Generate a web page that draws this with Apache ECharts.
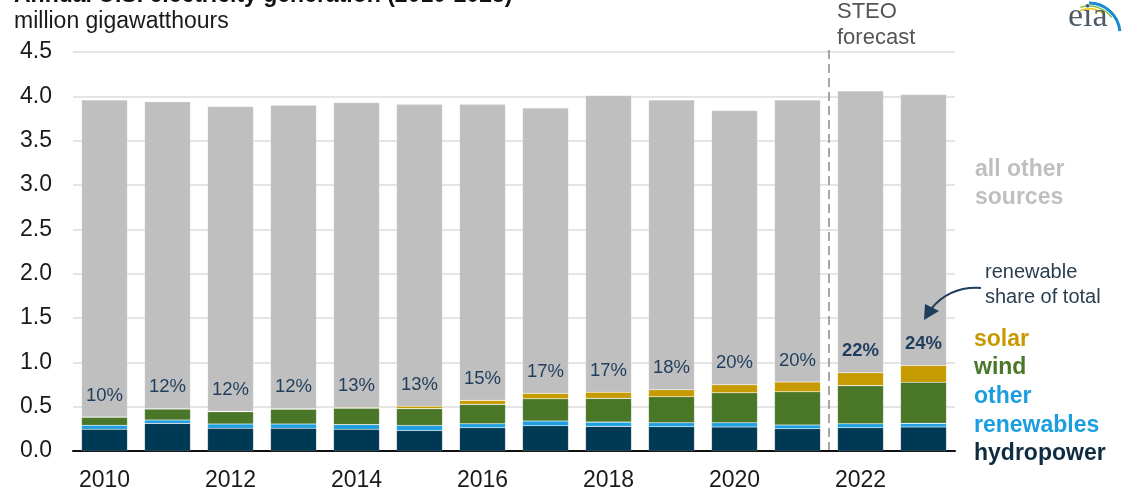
<!DOCTYPE html>
<html>
<head>
<meta charset="utf-8">
<script src="https://cdn.jsdelivr.net/npm/echarts@6/dist/echarts.min.js"></script>
<style>
html,body{margin:0;padding:0;background:#fff;}
#chart{width:1140px;height:500px;}
</style>
</head>
<body>
<div id="chart"></div>
<script>
const years = ['2010','2011','2012','2013','2014','2015','2016','2017','2018','2019','2020','2021','2022','2023'];
const hydro    = [0.245,0.312,0.256,0.256,0.245,0.232,0.262,0.285,0.278,0.274,0.270,0.251,0.262,0.270];
const otherRen = [0.045,0.037,0.048,0.048,0.053,0.056,0.045,0.053,0.048,0.045,0.049,0.042,0.045,0.041];
const wind     = [0.090,0.124,0.139,0.167,0.184,0.190,0.219,0.251,0.268,0.293,0.338,0.375,0.430,0.465];
const solar    = [0.002,0.003,0.004,0.006,0.010,0.027,0.045,0.060,0.068,0.079,0.090,0.111,0.146,0.188];
const allOther = [3.578,3.464,3.438,3.423,3.438,3.405,3.339,3.221,3.348,3.269,3.093,3.181,3.177,3.056];
const shareLabels = ['10%','12%','12%','12%','13%','13%','15%','17%','17%','18%','20%','20%','22%','24%'];
const forecastStart = 12; // index of first forecast year
const yTicks = {min:0, max:4.5, interval:0.5};

const FONT = '"Liberation Sans", Arial, sans-serif';
const C = {hydro:'#003953', other:'#1f9fdf', wind:'#4a7628', solar:'#c69b00', gray:'#bfbfbf', text:'#1e2a36', label:'#1f3d5c'};

const chart = echarts.init(document.getElementById('chart'), null, {renderer:'canvas'});

const seg = (name, data, color) => ({
  name, type:'bar', stack:'total', data, barCategoryGap:'27%',
  itemStyle:{color, borderColor:'rgba(255,255,255,0.25)', borderWidth:0.6},
  emphasis:{disabled:true}
});

const solarData = solar.map((v,i) => i >= forecastStart ? {value:v, label:{fontWeight:'bold'}} : v);

const option = {
  animation:false,
  grid:{left:73, right:185, top:52, bottom:49, containLabel:false},
  xAxis:{
    type:'category', data:years,
    axisLine:{lineStyle:{color:'#111', width:2}},
    axisTick:{show:false},
    axisLabel:{interval:1, color:'#1a1a1a', fontSize:23, fontFamily:FONT, margin:18}
  },
  yAxis:{
    type:'value', min:yTicks.min, max:yTicks.max, interval:yTicks.interval,
    axisLine:{show:false}, axisTick:{show:false},
    axisLabel:{color:'#1a1a1a', fontSize:23, fontFamily:FONT, margin:21, formatter:v=>v.toFixed(1)},
    splitLine:{lineStyle:{color:'#dcdcdc', width:1.5}}
  },
  series:[
    seg('hydropower', hydro, C.hydro),
    seg('other renewables', otherRen, C.other),
    seg('wind', wind, C.wind),
    Object.assign(seg('solar', solarData, C.solar), {
      label:{show:true, position:'top', distance:12, color:C.label, fontSize:18.5, fontFamily:FONT,
        formatter:p=>shareLabels[p.dataIndex]}
    }),
    seg('all other sources', allOther, C.gray)
  ]
};
chart.setOption(option);

// dashed forecast divider between last history year and first forecast year
const xa = chart.convertToPixel({xAxisIndex:0}, years[forecastStart-1]);
const xb = chart.convertToPixel({xAxisIndex:0}, years[forecastStart]);
const xd = (xa + xb) / 2;
const yTop = chart.convertToPixel({yAxisIndex:0}, yTicks.max);
const yBot = chart.convertToPixel({yAxisIndex:0}, 0);

const txt = (x, y, text, size, color, weight) => ({
  type:'text', x, y, silent:true, z:100,
  style:{text, fill:color, font:`${weight||'normal'} ${size}px ${FONT}`, verticalAlign:'middle', align:'left'}
});

chart.setOption({
  graphic:[
    {type:'line', silent:true, z:100, shape:{x1:xd, y1:yTop-2, x2:xd, y2:yBot-1},
      style:{stroke:'#8a8a8a', lineWidth:1.5, lineDash:[9,5]}},
    txt(14, -4, 'Annual U.S. electricity generation (2010-2023)', 23, '#111', 'bold'),
    txt(14, 22, 'million gigawatthours', 23, '#1a1a1a'),
    txt(837, 12, 'STEO', 22, '#555'),
    txt(837, 38, 'forecast', 22, '#555'),
    txt(975, 170, 'all other', 23, C.gray, 'bold'),
    txt(975, 198, 'sources', 23, C.gray, 'bold'),
    txt(985, 272, 'renewable', 20, '#2b3e50'),
    txt(985, 297, 'share of total', 20, '#2b3e50'),
    txt(974, 340, 'solar', 23, C.solar, 'bold'),
    txt(974, 368, 'wind', 23, C.wind, 'bold'),
    txt(974, 397, 'other', 23, '#1a9ee0', 'bold'),
    txt(974, 426, 'renewables', 23, '#1a9ee0', 'bold'),
    txt(974, 454, 'hydropower', 23, '#0d2c40', 'bold'),
    {type:'bezierCurve', silent:true, z:100,
      shape:{x1:981, y1:288, x2:931, y2:309, cpx1:950, cpy1:286},
      style:{stroke:'#1f3d5c', lineWidth:2, fill:null}},
    {type:'polygon', silent:true, z:100,
      shape:{points:[[924,320],[925,304],[939,311]]},
      style:{fill:'#1f3d5c'}},
    // eia logo
    {type:'arc', silent:true, z:100, shape:{cx:1089, cy:34, r:25, startAngle:-Math.PI*0.62, endAngle:-Math.PI*0.3},
      style:{stroke:'#f2c500', lineWidth:1.5, fill:null}},
    {type:'arc', silent:true, z:100, shape:{cx:1089, cy:34, r:28, startAngle:-Math.PI*0.6, endAngle:-Math.PI*0.2},
      style:{stroke:'#7cc242', lineWidth:1.5, fill:null}},
    {type:'arc', silent:true, z:100, shape:{cx:1089, cy:34, r:31, startAngle:-Math.PI*0.5, endAngle:-Math.PI*0.03},
      style:{stroke:'#1a8bd0', lineWidth:3, fill:null}},
    {type:'text', x:1068, y:17, silent:true, z:100,
      style:{text:'eia', fill:'#4e5b66', font:'normal 34px "Liberation Serif", "DejaVu Serif", serif', verticalAlign:'middle', align:'left'}}
  ]
});
</script>
</body>
</html>
